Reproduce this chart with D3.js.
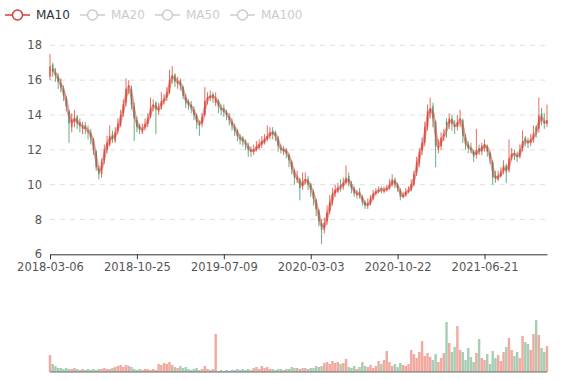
<!DOCTYPE html>
<html><head><meta charset="utf-8">
<script src="https://cdn.jsdelivr.net/npm/d3@7/dist/d3.min.js"></script>
<style>
html,body{margin:0;padding:0;background:#fff;}
svg{display:block;font-family:"DejaVu Sans",sans-serif;}
</style></head>
<body><svg id="c" width="577" height="380"></svg>
<script>
// ---- data (weekly candles, each ≈ 5 trading days) ----
const tickIndex  = [0, 32, 64, 96, 128, 160];
const tickLabels = ["2018-03-06","2018-10-25","2019-07-09","2020-03-03","2020-10-22","2021-06-21"];
const yTicks = [6, 8, 10, 12, 14, 16, 18];
const legendNames = ["MA10", "MA20", "MA50", "MA100"];
const legendActive = [true, false, false, false];

const open = [16.2,16.9,16.4,16.2,15.8,15.5,15.0,14.2,13.3,13.6,13.9,13.6,13.2,13.4,13.1,13.0,12.6,11.9,10.9,10.6,
11.4,12.0,12.3,12.9,12.5,13.1,13.4,14.1,14.7,15.6,15.5,14.5,13.7,13.4,13.0,13.3,13.5,13.9,14.5,14.7,
14.2,14.5,14.8,15.0,15.3,16.1,16.3,15.8,16.0,15.6,15.0,14.8,14.6,14.3,14.0,13.5,13.5,14.0,14.9,15.0,
15.2,14.7,14.8,14.4,14.4,14.1,13.9,13.6,13.3,13.1,12.7,12.7,12.4,12.2,12.0,11.9,12.0,12.1,12.3,12.4,
12.6,12.8,13.1,13.0,12.7,12.1,11.9,12.0,11.7,11.3,10.8,10.3,10.3,9.9,10.2,10.3,10.0,9.6,9.1,8.5,
7.8,7.4,7.9,8.5,9.0,9.5,9.6,10.0,9.9,10.1,10.5,10.0,9.8,9.4,9.6,9.3,9.0,8.8,8.9,9.2,
9.5,9.6,9.8,9.6,9.7,9.8,10.0,10.3,10.0,9.7,9.3,9.4,9.6,9.7,10.0,10.7,11.2,12.0,12.4,13.3,
14.1,14.5,13.6,12.0,12.2,12.8,13.6,13.5,13.8,13.4,13.3,13.7,13.7,12.7,12.3,12.1,11.9,11.7,12.1,11.9,
12.1,12.2,11.8,11.3,10.5,10.3,10.5,10.8,11.1,10.8,11.6,11.8,11.7,11.6,12.1,12.7,12.5,12.4,12.6,13.3,
13.2,14.1,13.6,13.5];
const close = [16.8,16.5,16.3,15.9,15.6,15.1,14.5,13.5,13.7,13.8,13.5,13.4,13.3,13.2,13.0,12.7,12.0,11.0,10.6,11.3,
12.0,12.4,12.8,12.6,13.0,13.5,14.0,14.6,15.5,15.7,14.6,13.8,13.3,13.2,13.2,13.5,13.8,14.4,14.6,14.3,
14.4,14.8,14.9,15.3,16.0,16.3,15.9,15.9,15.7,15.1,14.7,14.6,14.4,14.0,13.6,13.4,13.9,14.8,15.0,15.1,
15.0,14.9,14.5,14.3,14.2,14.0,13.7,13.4,13.1,12.8,12.6,12.5,12.3,12.0,11.9,12.0,12.2,12.3,12.5,12.6,
12.8,13.0,12.9,12.8,12.2,12.0,12.0,11.8,11.4,10.9,10.4,10.4,9.8,10.2,10.3,10.0,9.7,9.2,8.6,7.9,
7.4,7.8,8.4,9.0,9.5,9.7,9.8,9.9,10.1,10.4,10.1,9.8,9.5,9.5,9.4,9.0,8.8,8.9,9.2,9.5,
9.6,9.7,9.7,9.7,9.8,10.0,10.3,10.0,9.8,9.3,9.4,9.6,9.7,10.0,10.6,11.3,11.9,12.4,13.3,14.2,
14.4,13.8,12.2,12.2,12.7,12.9,13.4,13.8,13.5,13.3,13.6,13.8,12.8,12.3,12.1,12.0,11.6,12.0,11.9,12.2,
12.3,11.9,11.5,10.4,10.4,10.5,10.7,11.1,10.7,11.5,11.8,11.7,11.6,12.0,12.5,12.5,12.4,12.6,12.9,13.1,
14.0,13.7,13.5,13.7];
const high = [17.5,17.0,16.7,16.4,16.1,15.7,15.1,14.3,14.1,14.3,14.0,13.8,13.6,13.6,13.4,13.2,12.7,12.0,11.1,11.5,
12.3,12.8,13.4,13.1,13.3,13.8,14.3,14.9,16.1,16.0,15.7,14.7,13.9,13.5,13.5,13.8,14.1,15.0,14.9,14.8,
14.7,15.3,15.2,15.6,16.6,16.8,16.4,16.2,16.1,15.7,15.2,14.9,14.8,14.5,14.1,13.7,14.1,15.6,15.3,15.4,
15.3,15.3,14.9,14.6,14.6,14.3,14.1,13.8,13.5,13.2,12.9,12.8,12.6,12.4,12.2,12.3,12.5,12.6,12.8,12.9,
13.4,13.3,13.3,13.1,12.8,12.3,12.2,12.1,11.8,11.4,10.9,10.8,10.4,10.7,10.7,10.5,10.1,9.7,9.2,8.6,
8.0,8.1,8.8,9.4,9.8,10.0,10.1,10.3,10.4,11.1,10.7,10.2,9.9,9.7,9.8,9.4,9.1,9.2,9.4,9.7,
9.8,9.9,9.9,9.9,10.0,10.3,10.6,10.4,10.1,9.8,9.6,9.8,9.9,10.3,10.8,11.6,12.1,12.7,13.6,14.6,
15.0,14.7,13.7,12.6,13.0,13.2,13.8,14.1,14.0,13.7,14.0,14.3,13.8,12.9,12.5,12.4,12.0,13.2,12.3,12.4,
12.6,12.3,11.9,11.4,10.8,10.8,11.0,11.4,11.2,12.6,12.1,12.0,11.9,12.3,13.1,12.8,12.7,12.9,13.4,13.4,
15.0,14.4,14.1,14.6];
const low = [16.0,16.2,15.9,15.5,15.3,14.8,14.2,12.4,13.0,13.3,13.2,13.0,12.9,12.9,12.6,12.3,11.7,10.8,10.3,10.4,
11.2,11.8,12.2,12.4,12.4,12.9,13.3,13.9,14.5,15.2,14.3,12.5,13.0,12.9,12.9,13.1,13.3,13.8,14.2,12.9,
14.0,14.3,14.6,14.8,15.2,15.8,15.6,15.5,15.4,14.9,14.4,14.3,14.1,13.7,13.2,12.8,13.3,13.9,14.6,14.8,
14.7,14.5,14.1,14.0,13.9,13.7,13.4,13.1,12.8,12.5,12.3,12.2,12.0,11.6,11.6,11.7,11.9,12.0,12.1,12.3,
12.5,12.6,12.6,12.5,11.9,11.8,11.7,11.5,11.0,10.6,10.0,10.1,9.1,9.7,10.0,9.7,9.3,8.8,8.2,7.6,
6.6,7.2,7.7,8.3,8.8,9.3,9.5,9.6,9.7,10.0,9.9,9.5,9.3,9.2,9.2,8.8,8.6,8.6,8.8,9.1,
9.4,9.5,9.5,9.5,9.6,9.7,9.9,9.8,9.6,9.1,9.2,9.3,9.5,9.6,9.9,10.5,11.0,11.7,12.2,13.1,
13.8,13.3,11.0,11.8,12.0,12.5,12.7,13.2,13.1,12.9,13.1,13.3,12.4,12.0,11.8,11.8,11.3,11.5,11.7,11.7,
11.9,11.6,11.2,10.0,10.1,10.2,10.4,10.6,10.1,10.7,11.4,11.4,11.3,11.5,11.9,12.2,12.1,12.2,12.4,12.7,
13.0,13.4,13.2,13.3];
const volume = [17,8,6,4,4,3,4,3,3,4,3,2,3,2,3,2,3,2,3,3,
4,3,3,4,5,6,7,5,7,6,5,3,2,3,2,3,3,2,3,2,
8,7,9,8,10,7,5,4,6,4,5,3,2,3,4,2,3,6,3,2,
3,38,1,2,1,2,1,2,2,3,2,3,2,3,2,4,5,3,6,4,
5,3,3,2,3,3,2,3,3,5,4,4,3,4,4,3,4,4,6,5,
6,9,10,8,11,9,10,8,9,13,5,4,6,3,5,10,6,5,7,4,
6,11,8,12,21,10,6,8,5,9,7,6,8,22,18,14,20,31,16,19,
15,12,18,10,14,19,50,29,20,25,46,22,20,12,24,15,10,19,33,14,
12,18,8,21,14,17,11,20,25,34,22,16,20,14,36,30,28,22,38,52,
37,24,20,26];

// ---- layout ----
const plot = {left: 50, right: 547, top: 45.3, bottom: 254.3};
const vol = {top: 320, bottom: 372};
const upColor = "#e5533f", downColor = "#4f9e6c";
const maColor = "#d0413c";
const DAYS_PER_CANDLE = 5, MA_DAYS = 10;
const FONT = "DejaVu Sans, sans-serif";

const svg = d3.select("#c");
const N = close.length;
const x = d3.scalePoint().domain(d3.range(N)).range([plot.left, plot.right]);
const y = d3.scaleLinear().domain([6, 18]).range([plot.bottom, plot.top]);
const yv = d3.scaleLinear().domain([0, d3.max(volume)]).range([vol.bottom, vol.top]);
const step = x.step();
const bodyW = Math.max(1, step * 0.6);

// grid lines
svg.append("g").selectAll("line").data(yTicks.filter(v => v !== 6)).join("line")
  .attr("x1", plot.left).attr("x2", plot.right)
  .attr("y1", d => y(d)).attr("y2", d => y(d))
  .attr("stroke", "#e0e0e0").attr("stroke-dasharray", "5,5");

// y axis labels
const ya = svg.append("g").attr("transform", `translate(${plot.left},0)`)
  .call(d3.axisLeft(y).tickValues(yTicks).tickSize(0).tickPadding(8));
ya.select(".domain").remove();
ya.selectAll("text").attr("fill", "#555").attr("font-size", 11.5).attr("font-family", FONT);

// x axis
const xa = svg.append("g").attr("transform", `translate(0,${plot.bottom})`)
  .call(d3.axisBottom(x).tickValues(tickIndex).tickFormat((d, i) => tickLabels[i]).tickSize(5).tickPadding(4).tickSizeOuter(0));
xa.select(".domain").attr("stroke", "#333");
xa.selectAll(".tick line").attr("stroke", "#333");
xa.selectAll("text").attr("fill", "#555").attr("font-size", 11.5).attr("font-family", FONT);

const data = d3.range(N).map(i => ({i, o: open[i], c: close[i], h: high[i], l: low[i], v: volume[i]}));
const col = d => d.c >= d.o ? upColor : downColor;

// candles
const cg = svg.append("g");
cg.selectAll("line").data(data).join("line")
  .attr("x1", d => x(d.i)).attr("x2", d => x(d.i))
  .attr("y1", d => y(d.h)).attr("y2", d => y(d.l))
  .attr("stroke", col).attr("stroke-width", 1).attr("stroke-opacity", 0.85);
cg.selectAll("rect").data(data).join("rect")
  .attr("x", d => x(d.i) - bodyW / 2).attr("width", bodyW)
  .attr("y", d => y(Math.max(d.o, d.c)))
  .attr("height", d => Math.max(0.8, Math.abs(y(d.o) - y(d.c))))
  .attr("fill", col).attr("fill-opacity", 0.85);

// MA10 line (10 trading days = 2 weekly candles)
const win = MA_DAYS / DAYS_PER_CANDLE;
const ma = data.filter(d => d.i >= win - 1).map(d => ({i: d.i, v: d3.mean(close.slice(d.i - win + 1, d.i + 1))}));
svg.append("path").datum(ma)
  .attr("d", d3.line().x(d => x(d.i)).y(d => y(d.v)).curve(d3.curveMonotoneX))
  .attr("fill", "none").attr("stroke", maColor).attr("stroke-width", 3).attr("stroke-opacity", 0.5);

// volume bars
svg.append("g").selectAll("rect").data(data).join("rect")
  .attr("x", d => x(d.i) - step * 0.45).attr("width", step * 0.9)
  .attr("y", d => yv(d.v)).attr("height", d => vol.bottom - yv(d.v))
  .attr("fill", col).attr("fill-opacity", 0.5);
svg.append("line").attr("x1", plot.left).attr("x2", plot.right)
  .attr("y1", vol.bottom).attr("y2", vol.bottom).attr("stroke", "#6b6b6b").attr("stroke-width", 1);

// legend
const legendX = [5, 80, 155, 230];
const lg = svg.append("g").selectAll("g").data(legendNames).join("g")
  .attr("transform", (d, i) => `translate(${legendX[i]},15)`);
lg.append("line").attr("x1", 0).attr("x2", 25).attr("y1", 0).attr("y2", 0)
  .attr("stroke", (d, i) => legendActive[i] ? maColor : "#ccc").attr("stroke-width", 1.5);
lg.append("circle").attr("cx", 12.5).attr("cy", 0).attr("r", 5)
  .attr("fill", "#fff").attr("stroke", (d, i) => legendActive[i] ? maColor : "#ccc").attr("stroke-width", 1.5);
lg.append("text").attr("x", 31).attr("y", 0).attr("dy", "0.35em").text(d => d)
  .attr("font-size", 12).attr("font-family", FONT).attr("fill", (d, i) => legendActive[i] ? "#333" : "#ccc");
</script></body></html>
